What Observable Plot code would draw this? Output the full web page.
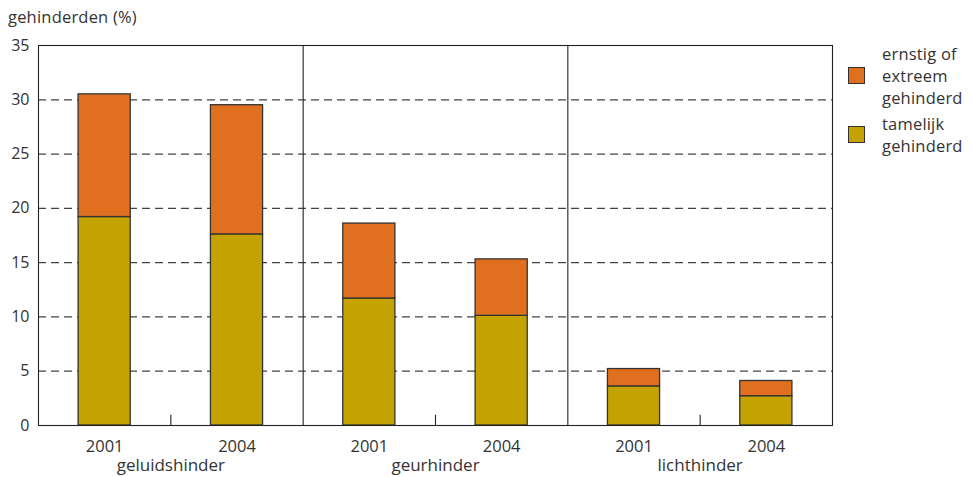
<!DOCTYPE html>
<html><head><meta charset="utf-8">
<script src="https://cdn.jsdelivr.net/npm/d3@7"></script>
<script src="https://cdn.jsdelivr.net/npm/@observablehq/plot@0.6"></script>
<style>
body{margin:0;background:#fff;font-family:"Open Sans",sans-serif;color:#333;}
#wrap{position:relative;width:972px;height:477px;}
#title{position:absolute;left:8px;top:5px;font-size:16.5px;color:#333;letter-spacing:0.2px;}
#legend{position:absolute;left:848px;top:43px;font-size:16.5px;color:#333;line-height:22px;letter-spacing:0.2px;}
.li{position:relative;padding-left:34px;}
.sw{position:absolute;left:0;width:17px;height:17px;border:1px solid #333;box-sizing:border-box;}
</style></head><body>
<div id="wrap">
<div id="title">gehinderden (%)</div>
<div id="legend">
 <div class="li"><span class="sw" style="top:24px;background:#E06F1F"></span>ernstig of<br>extreem<br>gehinderd</div>
 <div class="li" style="margin-top:4px"><span class="sw" style="top:13px;background:#C4A300"></span>tamelijk<br>gehinderd</div>
</div>
<div id="chart"></div>
</div>
<script>
const panels = ["geluidshinder", "geurhinder", "lichthinder"];
const years = ["2001", "2004"];
const tamelijk = [19.2, 17.6, 11.7, 10.1, 3.6, 2.7];
const ernstig = [11.3, 11.9, 6.9, 5.2, 1.6, 1.4];
const yTicks = [0, 5, 10, 15, 20, 25, 30, 35];
const colors = {"tamelijk gehinderd": "#C4A300", "ernstig of extreem gehinderd": "#E06F1F"};

const half = 0.197;
const rows = [];
panels.forEach((p, pi) => years.forEach((yr, yi) => {
  const i = pi * 2 + yi;
  rows.push({slot: i, type: "tamelijk gehinderd", y1: 0, y2: tamelijk[i]});
  rows.push({slot: i, type: "ernstig of extreem gehinderd", y1: tamelijk[i], y2: tamelijk[i] + ernstig[i]});
}));
const yearLabels = [];
panels.forEach((p, pi) => years.forEach((yr, yi) => yearLabels.push({slot: pi * 2 + yi, label: yr})));
const panelLabels = panels.map((p, pi) => ({pos: pi * 2 + 1, label: p}));
const separators = panels.slice(1).map((p, pi) => (pi + 1) * 2);
const midTicks = panels.map((p, pi) => pi * 2 + 1);

const chart = Plot.plot({
  width: 972, height: 477,
  marginLeft: 38, marginRight: 140, marginTop: 45, marginBottom: 52,
  style: {fontFamily: "Open Sans, sans-serif", fontSize: "16px", color: "#333", background: "transparent"},
  x: {domain: [0, panels.length * 2], axis: null},
  y: {domain: [0, 35], ticks: yTicks, tickSize: 0, tickPadding: 9, label: null},
  marks: [
    Plot.ruleY(yTicks.filter(d => d > 0 && d < 35), {stroke: "#444", strokeWidth: 1.2, strokeDasharray: "8,5"}),
    Plot.rect(rows, {x1: d => d.slot + 0.5 - half, x2: d => d.slot + 0.5 + half, y1: "y1", y2: "y2",
      fill: d => colors[d.type], stroke: "#333", strokeWidth: 1.3}),
    Plot.ruleX(separators, {stroke: "#222", strokeWidth: 1.1}),
    Plot.ruleX(midTicks, {y1: 0, y2: 0.95, stroke: "#222", strokeWidth: 1.1}),
    Plot.frame({stroke: "#222", strokeWidth: 1.1}),
    Plot.text(yearLabels, {x: d => d.slot + 0.5, y: 0, dy: 21, text: "label", fill: "#333", fontSize: 16.5, letterSpacing: "0.5px"}),
    Plot.text(panelLabels, {x: "pos", y: 0, dy: 40, text: "label", fill: "#333", fontSize: 17, letterSpacing: "0.3px"})
  ]
});
document.getElementById("chart").appendChild(chart);
</script>
</body></html>
